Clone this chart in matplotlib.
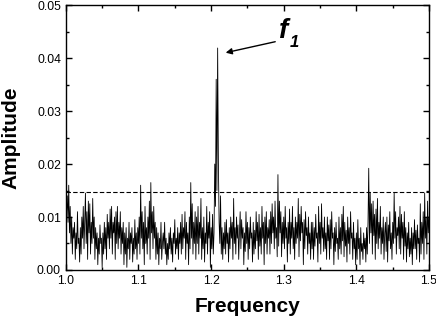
import numpy as np
import matplotlib
matplotlib.use("Agg")
import matplotlib.pyplot as plt
from matplotlib.ticker import MultipleLocator

# amplitude, units of 1e-3, one value per 0.001 in frequency
amp_milli = [
    18, 11, 14, 9, 16, 7, 12, 5, 10, 3, 8, 6, 9, 2, 7, 4, 11, 5, 6, 1.5,
    8, 3, 10, 6, 12, 4, 9, 14.5, 5, 11, 2, 13, 7, 12.5, 3, 9, 5, 13.5, 6, 10,
    2, 8, 4, 7, 1, 6, 3, 8.5, 5, 6, 0.5, 7, 3, 9, 4, 8, 2, 10.5, 6, 9,
    4, 11.5, 6, 12, 3, 9, 7, 10, 2, 11, 5, 12, 4, 9, 6, 11, 3, 8, 5, 9,
    1, 7, 3, 8, 0.5, 6, 4, 9, 2, 7, 5, 8, 1.5, 6, 3, 9.5, 4, 7, 2, 8,
    5, 10, 3, 16, 6, 11, 4, 9, 1, 12, 5, 8, 3, 10, 6, 13, 2, 16.5, 7, 11,
    4, 12, 6, 9, 2, 8, 3, 7, 1, 6, 4, 9, 2, 5, 7, 4, 9, 3, 6, 1,
    5, 2, 7, 4, 8, 3, 6, 1.5, 7, 5, 9.5, 3, 6, 4, 8, 2, 7, 5, 9, 3,
    10.5, 4, 8, 6, 11, 2, 9, 5, 7, 1, 10, 4, 16.5, 6, 12.5, 3, 9, 5, 11, 2,
    10, 5, 12, 3, 9, 6, 13.5, 2, 8, 4, 10, 1.5, 7, 5, 12, 3, 9, 6, 11, 0.5,
    8, 4, 10.5, 3, 7, 20, 12, 36, 15, 41.9, 20.5, 9, 5, 14, 3, 8, 2, 7, 4, 9,
    3, 9.5, 5, 7, 1.5, 8, 4, 10, 6, 9, 2, 13.5, 5, 8, 3, 10, 6, 8.5, 2, 7,
    11, 4, 9.5, 6, 8, 1, 7, 3.5, 11, 5, 9, 2, 8, 4, 10, 6, 7, 1.5, 9, 3,
    7.5, 4, 11, 5.5, 9, 2, 10.5, 4.5, 8, 3, 12, 6, 9, 1, 10, 5, 11, 3, 8, 6,
    9.5, 3, 11, 5, 12.5, 7, 10, 4, 13, 6, 8, 2.5, 18, 4.5, 13, 7, 11, 2.5, 9, 5,
    10, 4, 12, 6, 8, 1.5, 9, 5, 11.5, 3, 9, 6, 12, 4, 8, 2, 10, 5, 9, 6,
    13.5, 2.5, 10.5, 5.5, 12, 7, 9, 1, 9.5, 4, 11, 6.5, 8, 3, 10, 5, 7, 2, 9, 4,
    9, 2, 8, 4.5, 10.5, 6, 7, 1.5, 12, 5, 9, 3, 12.5, 6, 8, 3.5, 10, 4, 7, 2,
    10, 5.5, 8.5, 2, 9.5, 4, 11, 6, 7, 1, 8, 3.5, 9, 5, 6, 2, 10, 4, 8, 3,
    10.5, 5.5, 12, 2.5, 9, 4.5, 7.5, 1.5, 10, 5, 8, 3, 11, 6, 7, 2, 9, 4, 6, 1,
    7, 2, 9.5, 4, 6, 1, 8, 3.5, 5, 2, 7, 4, 6, 1.5, 8, 3, 9, 19.2, 5, 14.5,
    7, 12.5, 3, 13, 6.5, 10.5, 2, 11.5, 5, 13.5, 4, 9, 6, 12, 3, 8, 5, 10, 2, 7,
    9, 3.5, 10, 1.5, 8.5, 5.5, 11, 4, 7, 2, 9, 5, 14.5, 6, 11, 3, 8, 6.5, 10, 4,
    12, 3, 10.5, 6, 9, 2, 11, 4.5, 8, 1.5, 7, 4, 9, 2.5, 6, 3, 8, 1, 7, 4,
    9.5, 4, 7.5, 2, 8.5, 5, 6, 1.5, 12.5, 3, 9, 5, 11, 2, 14.5, 6, 10, 3, 13, 7,
    10,
]
assert len(amp_milli) == 501, len(amp_milli)

freq = np.round(1.0 + 0.001 * np.arange(len(amp_milli)), 3)
amplitude = np.array(amp_milli) / 1000.0

threshold = 0.0147

plt.rcParams['font.family'] = ['Liberation Sans', 'DejaVu Sans']

fig = plt.figure(figsize=(4.36, 3.18), dpi=100)
ax = fig.add_axes([0.151, 0.151, 0.833, 0.833])

ax.plot(freq, amplitude, color='black', lw=0.6)
ax.axhline(threshold, color='black', lw=0.8, ls=(0, (4, 2)))

ax.set_xlim(1.0, 1.5)
ax.set_ylim(0.0, 0.05)
ax.xaxis.set_major_locator(MultipleLocator(0.1))
ax.xaxis.set_minor_locator(MultipleLocator(0.05))
ax.yaxis.set_major_locator(MultipleLocator(0.01))
ax.yaxis.set_minor_locator(MultipleLocator(0.005))
ax.xaxis.set_major_formatter(plt.FormatStrFormatter('%.1f'))
ax.yaxis.set_major_formatter(plt.FormatStrFormatter('%.2f'))
ax.tick_params(which='both', direction='in', top=True, right=True,
               labelsize=8.7, width=1)
ax.tick_params(which='major', length=4)
ax.tick_params(which='minor', length=2.5)
for s in ax.spines.values():
    s.set_linewidth(1.0)

ax.set_xlabel('Frequency', fontsize=15, fontweight='bold', labelpad=7)
ax.set_ylabel('Amplitude', fontsize=15, fontweight='bold', labelpad=12)

# f1 label with arrow to the main peak
ax.annotate('', xy=(1.2163, 0.0409), xytext=(1.292, 0.0432),
            arrowprops=dict(arrowstyle='-|>', color='black', lw=1.0,
                            mutation_scale=9))
ax.text(1.294, 0.0437, 'f', fontsize=20, style='italic', fontweight='bold',
        ha='left', va='baseline')
ax.text(1.3085, 0.0421, '1', fontsize=12, style='italic', fontweight='bold',
        ha='left', va='baseline')

fig.savefig('out.png', dpi=100)
